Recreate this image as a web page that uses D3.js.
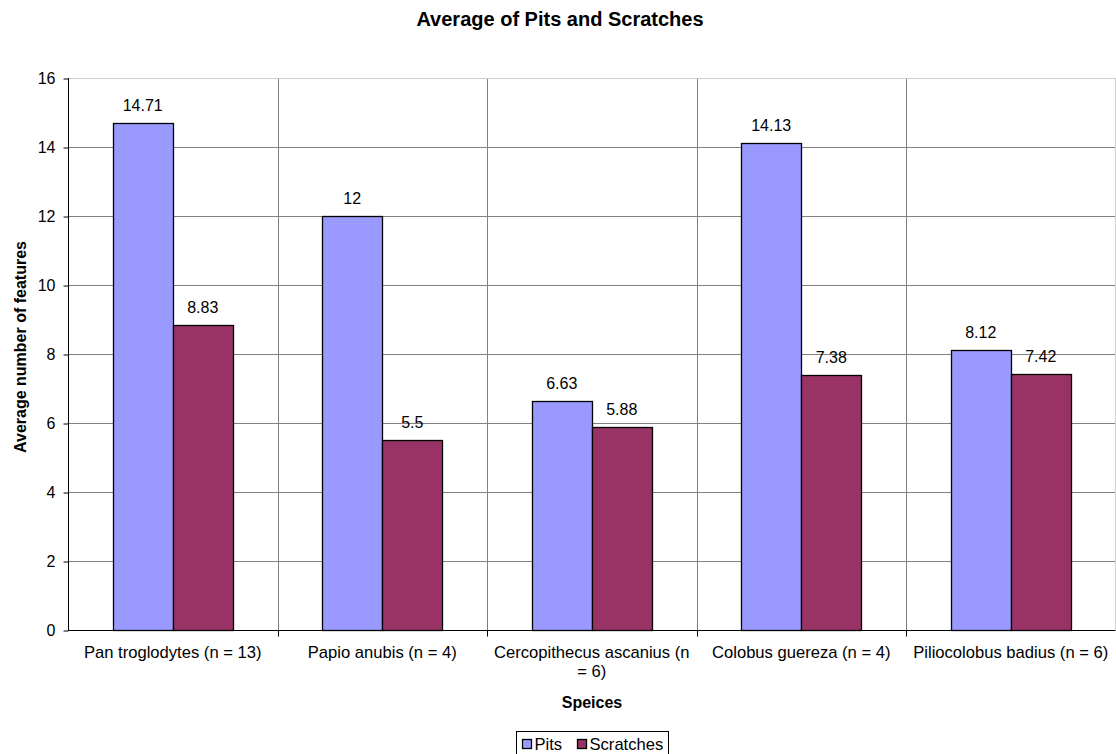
<!DOCTYPE html>
<html><head><meta charset="utf-8">
<script src="https://cdn.jsdelivr.net/npm/d3@7"></script>
<style>body{margin:0;background:#fff;}svg{display:block;font-family:"Liberation Sans",Arial,sans-serif;}</style>
</head><body><svg id="c" width="1116" height="754"></svg>
<script>
const categories = ["Pan troglodytes (n = 13)", "Papio anubis (n = 4)", "Cercopithecus ascanius (n = 6)", "Colobus guereza (n = 4)", "Piliocolobus badius (n = 6)"];
const categoryLines = [["Pan troglodytes (n = 13)"], ["Papio anubis (n = 4)"], ["Cercopithecus ascanius (n", "= 6)"], ["Colobus guereza (n = 4)"], ["Piliocolobus badius (n = 6)"]];
const seriesNames = ["Pits", "Scratches"];
const pits = [14.71, 12, 6.63, 14.13, 8.12];
const scratches = [8.83, 5.5, 5.88, 7.38, 7.42];
const yTicks = [0, 2, 4, 6, 8, 10, 12, 14, 16];
const colors = ["#9999ff", "#993366"];

const FS = 16, FT = 16.6;
const svg = d3.select("#c");
const L = 68, R = 1115.5, T = 78, B = 630;
const x = d3.scaleBand().domain(categories).range([L, R]).paddingInner(0).paddingOuter(0);
const y = d3.scaleLinear().domain([0, 16]).range([B, T]);
const bw = 60;
const sub = d3.scaleBand().domain(seriesNames).range([0, bw * 2]);

// gridlines
svg.append("g").selectAll("line").data(yTicks.filter(d => d > 0 && d < 16)).join("line")
  .attr("x1", L).attr("x2", R).attr("y1", d => Math.round(y(d)) + 0.5).attr("y2", d => Math.round(y(d)) + 0.5)
  .attr("stroke", "#808080").attr("stroke-width", 1);
svg.append("g").selectAll("line").data(categories.slice(1)).join("line")
  .attr("x1", d => Math.round(x(d)) + 0.5).attr("x2", d => Math.round(x(d)) + 0.5)
  .attr("y1", T).attr("y2", B + 6)
  .attr("stroke", "#808080").attr("stroke-width", 1);
// plot border top/right
svg.append("line").attr("x1", L).attr("x2", R).attr("y1", T + 0.5).attr("y2", T + 0.5).attr("stroke", "#d0d0d0");
svg.append("line").attr("x1", R).attr("x2", R).attr("y1", T).attr("y2", B).attr("stroke", "#d0d0d0");

// bars
const data = [];
categories.forEach((c, i) => {
  data.push({c, s: "Pits", v: pits[i]});
  data.push({c, s: "Scratches", v: scratches[i]});
});
const x0 = c => x(c) + (x.bandwidth() - bw * 2) / 2;
const gb = svg.append("g");
gb.selectAll("rect").data(data).join("rect")
  .attr("x", d => Math.round(x0(d.c) + sub(d.s)) + 0.5)
  .attr("y", d => Math.round(y(d.v)) + 0.5)
  .attr("width", bw)
  .attr("height", d => Math.round(y(0)) - Math.round(y(d.v)))
  .attr("fill", d => colors[seriesNames.indexOf(d.s)])
  .attr("stroke", "#000").attr("stroke-width", 1.3);
gb.selectAll("text").data(data).join("text")
  .attr("x", d => x0(d.c) + sub(d.s) + bw / 2)
  .attr("y", d => y(d.v) - 12)
  .attr("text-anchor", "middle").attr("font-size", FS).attr("fill", "#000")
  .text(d => d.v);

// y axis
const ya = svg.append("g").attr("transform", `translate(${L + 0.5},0)`)
  .call(d3.axisLeft(y).tickValues(yTicks).tickSize(5).tickPadding(8));
ya.select(".domain").attr("stroke", "#000").attr("d", `M0,${T}V${B + 0.5}`);
ya.selectAll(".tick line").attr("stroke", "#000").attr("transform", "translate(0,0.5)");
ya.selectAll(".tick text").attr("font-size", FS).attr("font-family", "Liberation Sans, Arial, sans-serif").attr("fill", "#000").attr("dy", "0.36em");

// x axis
const xa = svg.append("g").attr("transform", `translate(0,${Math.round(B) + 0.5})`);
xa.append("line").attr("x1", L).attr("x2", R).attr("stroke", "#000");
xa.selectAll("line.t").data(categories.slice(1)).join("line").attr("class", "t")
  .attr("x1", d => Math.round(x(d)) + 0.5).attr("x2", d => Math.round(x(d)) + 0.5).attr("y1", 0).attr("y2", 6).attr("stroke", "#000");
categories.forEach((c, i) => {
  const t = xa.append("text").attr("text-anchor", "middle").attr("font-size", FT).attr("fill", "#000");
  categoryLines[i].forEach((ln, j) => {
    t.append("tspan").attr("x", x(c) + x.bandwidth() / 2).attr("y", 27.5 + j * 19).text(ln);
  });
});

// titles
svg.append("text").attr("x", 560).attr("y", 26).attr("text-anchor", "middle")
  .attr("font-size", 20).attr("font-weight", "bold").text("Average of Pits and Scratches");
svg.append("text").attr("x", 592).attr("y", 708).attr("text-anchor", "middle")
  .attr("font-size", FS).attr("font-weight", "bold").text("Speices");
svg.append("text").attr("transform", `translate(26,347) rotate(-90)`).attr("text-anchor", "middle")
  .attr("font-size", FS).attr("font-weight", "bold").text("Average number of features");

// legend
const lg = svg.append("g");
lg.append("rect").attr("x", 516.5).attr("y", 731.5).attr("width", 152).attr("height", 30).attr("fill", "#fff").attr("stroke", "#000");
const items = [{n: "Pits", x: 522}, {n: "Scratches", x: 577}];
items.forEach((it, i) => {
  lg.append("rect").attr("x", it.x + 0.5).attr("y", 739.5).attr("width", 9).attr("height", 9)
    .attr("fill", colors[i]).attr("stroke", "#000").attr("stroke-width", 1.3);
  lg.append("text").attr("x", it.x + 12.5).attr("y", 749.5).attr("font-size", FT).text(it.n);
});
</script></body></html>
